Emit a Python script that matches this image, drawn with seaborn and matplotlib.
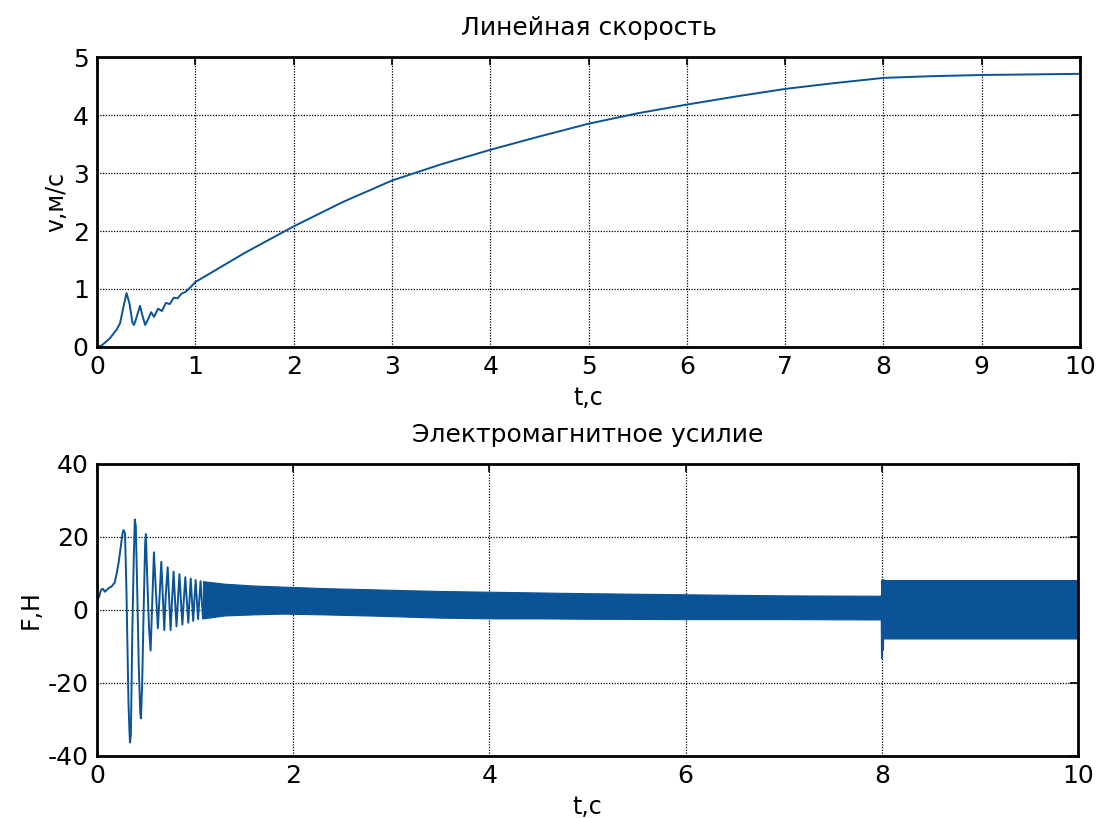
import matplotlib
matplotlib.use("Agg")
import matplotlib.pyplot as plt
import numpy as np
import pandas as pd
import seaborn as sns

# Linear speed of the mover, v (m/s) versus time t (s)
speed_t = [0.0, 0.05, 0.13, 0.2, 0.234, 0.27, 0.3, 0.33, 0.36, 0.376, 0.4, 0.437,
           0.46, 0.49, 0.52, 0.55, 0.58, 0.62, 0.66, 0.7, 0.74, 0.78, 0.82, 0.86,
           0.9, 0.95, 1.0, 1.5, 2.0, 2.5, 3.0, 3.5, 4.0, 4.5, 5.0, 5.5, 6.0, 6.5,
           7.0, 7.5, 8.0, 8.5, 9.0, 10.0]
speed_v = [0.0, 0.03, 0.15, 0.3, 0.41, 0.7, 0.93, 0.75, 0.42, 0.38, 0.5, 0.71,
           0.55, 0.38, 0.48, 0.6, 0.52, 0.66, 0.62, 0.76, 0.74, 0.85, 0.84, 0.92,
           0.95, 1.03, 1.12, 1.62, 2.08, 2.5, 2.87, 3.15, 3.4, 3.63, 3.85, 4.03, 4.18,
           4.32, 4.45, 4.55, 4.64, 4.67, 4.69, 4.71]

# Electromagnetic force F (N): start-up transient, individual swings
force_t = [0.0, 0.02, 0.04, 0.06, 0.08, 0.1, 0.12, 0.15, 0.18, 0.2, 0.22, 0.24,
           0.26, 0.27, 0.285, 0.3, 0.31, 0.32, 0.33, 0.336, 0.345, 0.36, 0.375,
           0.385, 0.395, 0.41, 0.425, 0.44, 0.448, 0.46, 0.475, 0.49, 0.498, 0.51,
           0.53, 0.546, 0.56, 0.58, 0.6, 0.62, 0.64, 0.655, 0.67, 0.685, 0.7, 0.72,
           0.735, 0.75, 0.765, 0.78, 0.795, 0.81, 0.825, 0.84, 0.855, 0.87, 0.885,
           0.9, 0.915, 0.93, 0.943, 0.955, 0.968, 0.98, 0.993, 1.005, 1.018, 1.03,
           1.043, 1.055, 1.068, 1.08]
force_f = [3.2, 3.5, 5.5, 5.8, 5.0, 5.5, 6.0, 6.5, 7.5, 10.0, 13.0, 17.0,
           21.0, 21.9, 21.0, 5.0, -10.0, -25.0, -33.0, -36.3, -34.0, -5.0, 15.0,
           24.8, 23.0, 5.0, -15.0, -28.0, -29.7, -20.0, 0.0, 18.0, 20.8, 10.0,
           -5.0, -11.1, 0.0, 15.8, 5.0, -5.0, 5.0, 13.2, 4.0, -5.5, 4.0, 11.7,
           3.0, -5.5, 3.0, 10.5, 2.5, -4.5, 3.0, 9.8, 2.5, -4.0, 3.0, 9.0, 2.5,
           -3.5, 3.0, 8.6, 2.5, -3.0, 3.0, 8.2, 2.5, -2.5, 3.0, 7.9, 2.5, -2.3]

# Steady ripple of the force: upper and lower envelope of the dense oscillation
band_t = [1.08, 1.3, 1.6, 1.9, 2.3, 2.9, 3.5, 4.0, 4.5, 5.0, 6.0, 7.0, 7.995,
          8.0, 8.5, 9.0, 9.5, 10.0]
band_hi = [7.9, 7.2, 6.7, 6.4, 6.0, 5.6, 5.2, 5.0, 4.8, 4.6, 4.3, 4.0, 3.9,
           8.2, 8.2, 8.2, 8.2, 8.2]
band_lo = [-2.3, -1.5, -1.2, -1.0, -1.2, -1.6, -2.1, -2.3, -2.3, -2.4, -2.5,
           -2.5, -2.6, -7.8, -7.8, -7.8, -7.8, -7.8]

# Load step at t = 8 s
step_t = [7.995, 8.0, 8.005, 8.012, 8.02]
step_f = [3.9, -13.2, 8.2, -11.0, 8.2]

LINE = "#0a5396"

sns.set_theme(style="white")
plt.rcParams["font.family"] = ["DejaVu Sans"]
plt.rcParams["axes.unicode_minus"] = False
plt.rcParams["xtick.direction"] = "in"
plt.rcParams["ytick.direction"] = "in"
plt.rcParams["text.color"] = "black"
plt.rcParams["axes.labelcolor"] = "black"
plt.rcParams["xtick.color"] = "black"
plt.rcParams["ytick.color"] = "black"

fig = plt.figure(figsize=(10.99, 8.18), dpi=100)
ax1 = fig.add_axes([0.0883, 0.5758, 0.8945, 0.3545])
ax2 = fig.add_axes([0.0883, 0.0758, 0.8927, 0.357])

speed = pd.DataFrame({"t": speed_t, "v": speed_v})
force = pd.DataFrame({"t": force_t, "F": force_f})
step = pd.DataFrame({"t": step_t, "F": step_f})

sns.lineplot(data=speed, x="t", y="v", ax=ax1, color=LINE, linewidth=1.4,
             estimator=None, sort=False)
sns.lineplot(data=force, x="t", y="F", ax=ax2, color=LINE, linewidth=1.4,
             estimator=None, sort=False)
ax2.fill_between(band_t, band_lo, band_hi, color=LINE, linewidth=0.8,
                 edgecolor=LINE)
sns.lineplot(data=step, x="t", y="F", ax=ax2, color=LINE, linewidth=1.3,
             estimator=None, sort=False)

ax1.set_xlim(0, 10)
ax1.set_ylim(0, 5)
ax1.set_xticks(range(0, 11))
ax1.set_yticks(range(0, 6))
ax1.set_title("Линейная скорость", fontsize=18, pad=16, color="black")
ax1.set_xlabel("t,c", fontsize=17, labelpad=5)
ax1.set_ylabel("v,м/с", fontsize=17, labelpad=3)

ax2.set_xlim(0, 10)
ax2.set_ylim(-40, 40)
ax2.set_xticks(range(0, 11, 2))
ax2.set_yticks(range(-40, 41, 20))
ax2.set_title("Электромагнитное усилие", fontsize=18, pad=16, color="black")
ax2.set_xlabel("t,c", fontsize=17, labelpad=5)
ax2.set_ylabel("F,H", fontsize=17, labelpad=4)

for ax in (ax1, ax2):
    ax.grid(True, color="black", linestyle=(0, (1, 1.2)), linewidth=0.9)
    ax.tick_params(axis="both", labelsize=18, length=6, width=1.2,
                   top=True, right=True)
    ax.tick_params(axis="x", pad=6)
    ax.tick_params(axis="y", pad=6)
    for sp in ax.spines.values():
        sp.set_color("black")
        sp.set_linewidth(2.0)
        sp.set_visible(True)

fig.savefig("out.png", dpi=100, facecolor="white")
